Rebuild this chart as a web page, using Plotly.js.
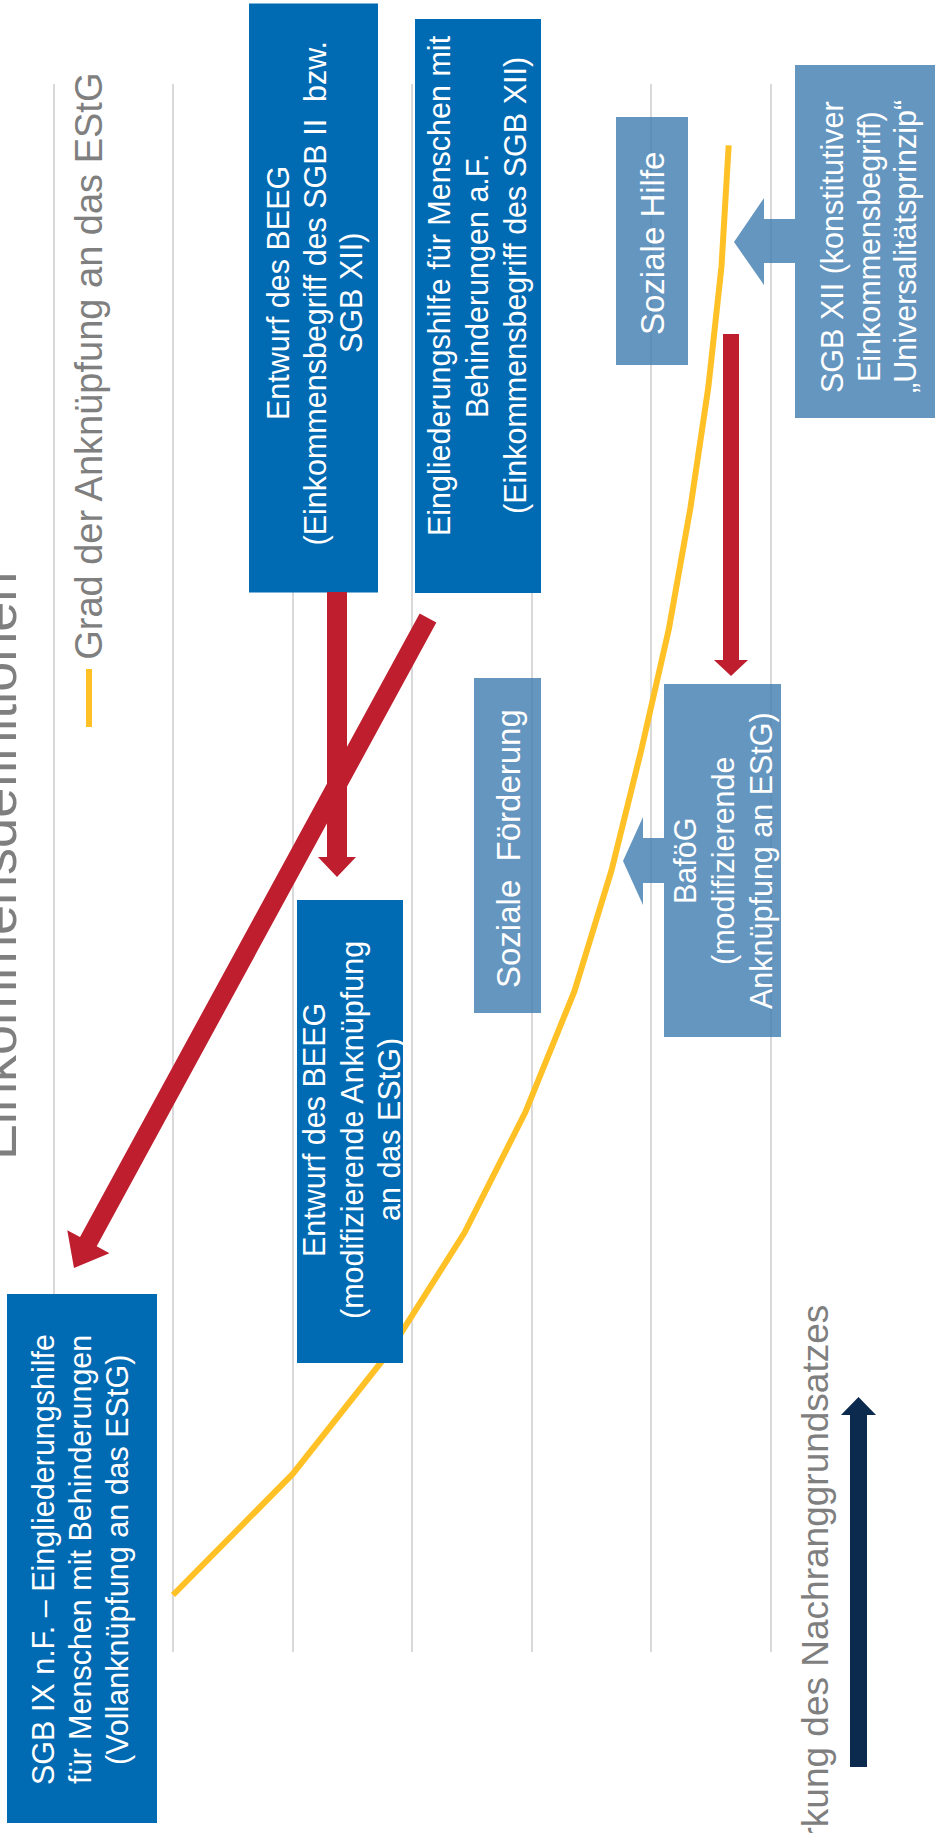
<!DOCTYPE html>
<html><head><meta charset="utf-8">
<script src="https://cdn.plot.ly/plotly-3.0.1.min.js"></script>
<style>html,body{margin:0;padding:0;background:#fff;overflow:hidden}#chart{width:935px;height:1833px}</style>
</head><body><div id="chart"></div>
<script>
// ---- data ----
const stufen = [1,2,3,4,5,6,7,8,9,10,11,12,13];
const anknuepfung = [5.0,4.0,3.2,2.56,2.05,1.64,1.33,1.08,0.85,0.67,0.52,0.41,0.35];
const titel = 'Einkommensdefinitionen';
const legendeText = 'Grad der Anknüpfung an das EStG';
const achsenText = 'Stärkung des Nachranggrundsatzes';
const textBEEGoben = ['Entwurf des BEEG','(Einkommensbegriff des SGB II\u00a0 bzw.','SGB XII)'];
const textEGHaF = ['Eingliederungshilfe für Menschen mit','Behinderungen a.F.','(Einkommensbegriff des SGB XII)'];
const textSGB9 = ['SGB IX n.F. – Eingliederungshilfe','für Menschen mit Behinderungen','(Vollanknüpfung an das EStG)'];
const textBEEGunten = ['Entwurf des BEEG','(modifizierende Anknüpfung','an das EStG)'];
const textFoerderung = ['Soziale\u00a0 Förderung'];
const textBafoeG = ['BaföG','(modifizierende','Anknüpfung an EStG)'];
const textHilfe = ['Soziale Hilfe'];
const textSGB12 = ['SGB XII (konstitutiver','Einkommensbegriff)','\u201EUniversalitätsprinzip\u201C'];

// ---- layout helpers (pixel -> paper) ----
const ML=0, MR=100, MT=84, MB=181, W=935, H=1833;
const PW=W-ML-MR, PH=H-MT-MB;
const X = px => (px-ML)/PW;
const Y = py => (H-MB-py)/PH;
const path = pts => 'M ' + pts.map(p => X(p[0]).toFixed(5)+','+Y(p[1]).toFixed(5)).join(' L ') + ' Z';

const DARK='#006AB3', LIGHT='rgb(63,124,176)', RED='#BE1E2D', NAVY='#0B2A4E', YEL='#FFC125', GREY='#7F7F7F';
const FONT='Liberation Sans, Arial, sans-serif';

const shapes=[]; const ann=[];
function box(x0,x1,y0,y1,color,op){
  shapes.push({type:'rect',xref:'paper',yref:'paper',x0:X(x0),x1:X(x1),y0:Y(y1),y1:Y(y0),
    fillcolor:color,opacity:op,line:{width:0},layer:'above'});
}
function poly(pts,color,op){
  shapes.push({type:'path',xref:'paper',yref:'paper',path:path(pts),fillcolor:color,opacity:op,line:{width:0},layer:'above'});
}
function txt(lines,xs,yc,size,color){
  lines.forEach((t,k)=>ann.push({xref:'paper',yref:'paper',x:X(xs[k]),y:Y(yc),text:t,showarrow:false,
    textangle:-90,xanchor:'center',yanchor:'middle',font:{family:FONT,size:size,color:color}}));
}

// boxes
box(249,378,3.5,592.5,DARK,1);   txt(textBEEGoben,[278,314.5,351],293,30.5,'#fff');
box(415,541,19,593,DARK,1);      txt(textEGHaF,[439,477,515],286,30.5,'#fff');
box(7,157,1294,1823,DARK,1);     txt(textSGB9,[43,80,117],1560,30.5,'#fff');
box(297,403,900,1363,DARK,1);    txt(textBEEGunten,[314,352,389],1130,30.5,'#fff');
box(474,541,678,1013,LIGHT,0.8); txt(textFoerderung,[508],849,33,'#fff');
box(664,781,684,1037,LIGHT,0.8); txt(textBafoeG,[685,723,761],861,30.5,'#fff');
box(616,688,117,365,LIGHT,0.8);  txt(textHilfe,[652],244,33,'#fff');
box(795,940,65,418,LIGHT,0.8);   txt(textSGB12,[832,869,905],247,30.5,'#fff');

// light block arrows
poly([[795,219],[764,219],[764,198],[734,242],[764,285],[764,263],[795,263]],LIGHT,0.8);
poly([[664,838],[643,838],[643,817],[623,861],[643,905],[643,883],[664,883]],LIGHT,0.8);

// red vertical arrows
poly([[327,592],[347,592],[347,857],[356,857],[337,877],[318,857],[327,857]],RED,1);
poly([[723,334],[739,334],[739,660],[748,660],[731,676],[714,660],[723,660]],RED,1);

// red diagonal arrow
(function(){
  const T=[428,618], P=[74,1268];
  const dx=P[0]-T[0], dy=P[1]-T[1], L=Math.hypot(dx,dy);
  const u=[dx/L,dy/L], n=[u[1],-u[0]];
  const hw=9.5, hh=24, hl=30;
  const B=[P[0]-hl*u[0],P[1]-hl*u[1]];
  const o=(p,s)=>[p[0]+s*n[0],p[1]+s*n[1]];
  poly([o(T,hw),o(B,hw),o(B,hh),P,o(B,-hh),o(B,-hw),o(T,-hw)],RED,1);
})();

// navy arrow
poly([[850,1767],[867,1767],[867,1415],[876,1415],[858.5,1397],[841,1415],[850,1415]],NAVY,1);

// legend
shapes.push({type:'line',xref:'paper',yref:'paper',x0:X(89),x1:X(89),y0:Y(669),y1:Y(727),line:{color:YEL,width:6},layer:'above'});
txt([legendeText],[88.8],366,38,GREY);
// title & axis text
txt([titel],[-3],866,54,GREY);
txt([achsenText],[815],1600,37,GREY);

const trace={x:anknuepfung,y:stufen,type:'scatter',mode:'lines',line:{color:YEL,width:6},
  hoverinfo:'skip',showlegend:false};

const yTop=(1595-MT)/120.8+1, ySpan=PH/120.8;
const layout={width:W,height:H,margin:{l:ML,r:MR,t:MT,b:MB,pad:0},paper_bgcolor:'#fff',plot_bgcolor:'#fff',
  showlegend:false,
  xaxis:{range:[770.5/119.5,(770.5-PW)/119.5],tick0:0,dtick:1,showgrid:true,gridcolor:'#D9D9D9',gridwidth:2,
    zeroline:false,showticklabels:false,ticks:'',showline:false},
  yaxis:{range:[yTop-ySpan,yTop],showgrid:false,zeroline:false,showticklabels:false,ticks:'',showline:false},
  shapes:shapes,annotations:ann};
Plotly.newPlot('chart',[trace],layout,{displayModeBar:false,staticPlot:true});
</script></body></html>
